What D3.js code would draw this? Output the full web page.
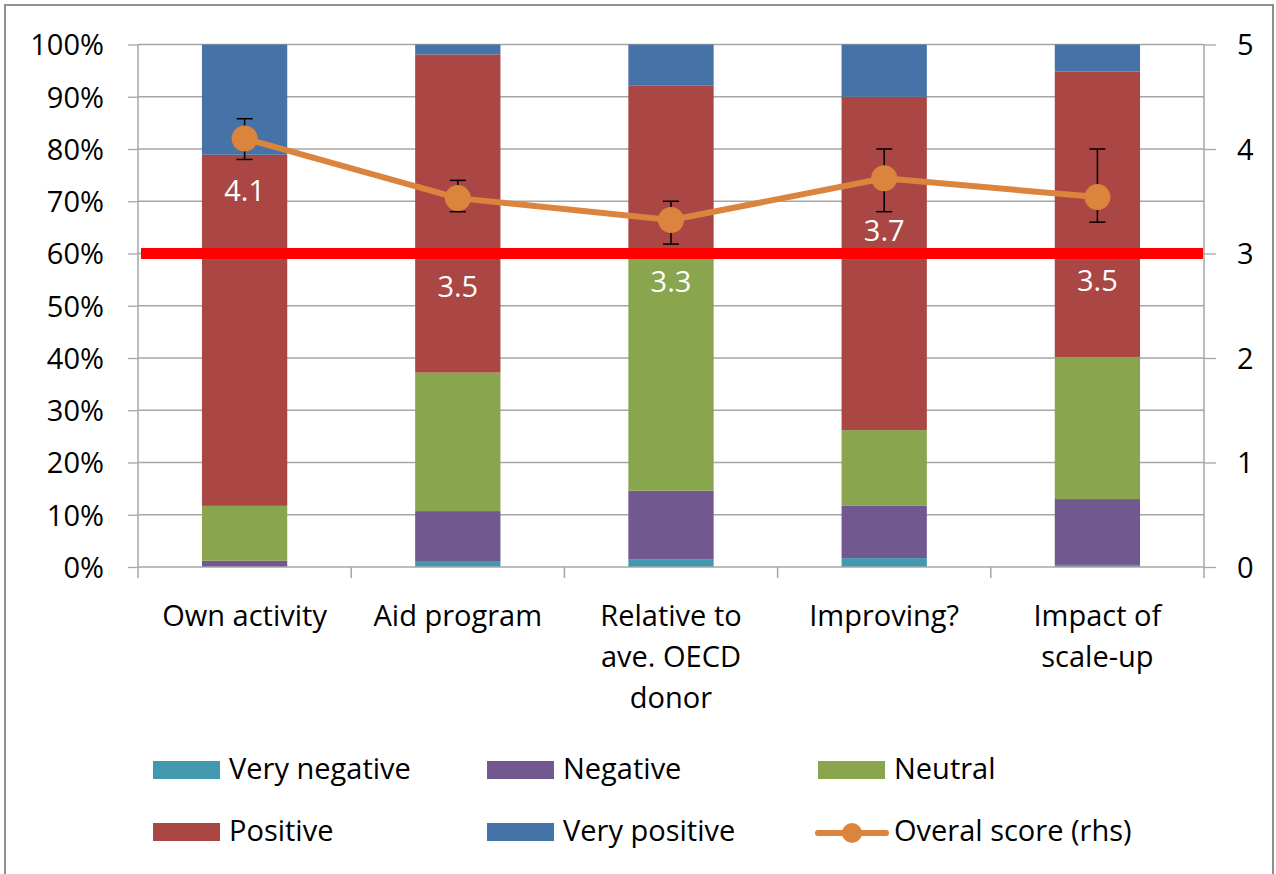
<!DOCTYPE html>
<html>
<head>
<meta charset="utf-8">
<script src="https://cdn.jsdelivr.net/npm/d3@7"></script>
<style>
  body { margin: 0; background: #fff; }
  text { font-family: "Open Sans", sans-serif; }
</style>
</head>
<body>
<script>
// survey answers, % of respondents per category
const categories = ["Own activity", "Aid program", "Relative to ave. OECD donor", "Improving?", "Impact of scale-up"];
const catLines = [["Own activity"], ["Aid program"], ["Relative to", "ave. OECD", "donor"], ["Improving?"], ["Impact of", "scale-up"]];
const veryNegative = [0, 1.0, 1.5, 1.7, 0.4];
const negative = [1.2, 9.7, 13.1, 10.0, 12.6];
const neutral = [10.5, 26.5, 44.4, 14.5, 27.2];
const positive = [67.2, 60.9, 33.1, 63.8, 54.6];
const veryPositive = [21.1, 1.9, 7.9, 10.0, 5.2];
// overall score, right hand scale
const score = [4.1, 3.53, 3.32, 3.72, 3.54];
const scoreHi = [4.29, 3.70, 3.50, 4.0, 4.0];
const scoreLo = [3.90, 3.40, 3.09, 3.40, 3.30];
const threshold = 3;
const leftTicks = [0, 10, 20, 30, 40, 50, 60, 70, 80, 90, 100];
const rightTicks = [0, 1, 2, 3, 4, 5];

const seriesNames = ["Very negative", "Negative", "Neutral", "Positive", "Very positive"];
const seriesVals = [veryNegative, negative, neutral, positive, veryPositive];
const colors = ["#4198af", "#71588f", "#89a54e", "#aa4643", "#4572a7"];
const orange = "#db843d";

// label offsets below each marker (px), as laid out in the original
const labelDy = [52, 88, 62, 52, 84];

const W = 1276, H = 874;
const plotL = 138, plotR = 1204, plotT = 44.5, plotB = 567;
const fs = 29;

const svg = d3.select("body").append("svg")
  .attr("width", W)
  .attr("height", H);

svg.append("rect")
  .attr("x", 5).attr("y", 5)
  .attr("width", 1268).attr("height", 900)
  .attr("fill", "#fff")
  .attr("stroke", "#8f8f8f")
  .attr("stroke-width", 2);

const x = d3.scaleBand().domain(categories).range([plotL, plotR]).paddingInner(0.6).paddingOuter(0.3);
const y = d3.scaleLinear().domain([0, 100]).range([plotB, plotT]);
const yR = d3.scaleLinear().domain([0, 5]).range([plotB, plotT]);

// gridlines
svg.append("g").selectAll("line")
  .data(leftTicks.slice(1))
  .enter().append("line")
  .attr("x1", plotL).attr("x2", plotR)
  .attr("y1", d => y(d)).attr("y2", d => y(d))
  .attr("stroke", "#a6a6a6")
  .attr("stroke-width", 1.3);

// stacked bars
const rows = categories.map((c, i) => {
  const r = { cat: c };
  seriesNames.forEach((s, k) => r[s] = seriesVals[k][i]);
  return r;
});
const stack = d3.stack().keys(seriesNames)(rows);

svg.append("g").selectAll("g")
  .data(stack)
  .enter().append("g")
  .attr("fill", (d, k) => colors[k])
  .selectAll("rect")
  .data(d => d)
  .enter().append("rect")
  .attr("x", d => x(d.data.cat))
  .attr("width", x.bandwidth())
  .attr("y", d => y(d[1]))
  .attr("height", d => y(d[0]) - y(d[1]));

// left axis
const yAxis = d3.axisLeft(y).tickValues(leftTicks).tickFormat(d => d + "%").tickSize(10).tickPadding(24);
const gl = svg.append("g").attr("transform", `translate(${plotL},0)`).call(yAxis);
gl.select(".domain").remove();
gl.selectAll("line").attr("stroke", "#a6a6a6").attr("stroke-width", 1.3);
gl.selectAll("text").attr("font-size", fs).attr("font-family", "Open Sans").attr("fill", "#000").attr("dy", "0.36em");

// right axis
const yAxisR = d3.axisRight(yR).tickValues(rightTicks).tickFormat(d3.format("d")).tickSize(12).tickPadding(21);
const gr = svg.append("g").attr("transform", `translate(${plotR},0)`).call(yAxisR);
gr.select(".domain").remove();
gr.selectAll("line").attr("stroke", "#a6a6a6").attr("stroke-width", 1.3);
gr.selectAll("text").attr("font-size", fs).attr("font-family", "Open Sans").attr("fill", "#000").attr("dy", "0.36em");

// vertical axis lines
[plotL, plotR].forEach(px => {
  svg.append("line")
    .attr("x1", px).attr("x2", px)
    .attr("y1", plotT).attr("y2", plotB + 11)
    .attr("stroke", "#a6a6a6").attr("stroke-width", 1.5);
});

// x axis line + category ticks
svg.append("line")
  .attr("x1", plotL).attr("x2", plotR)
  .attr("y1", plotB).attr("y2", plotB)
  .attr("stroke", "#a6a6a6").attr("stroke-width", 1.5);
const step = x.step();
svg.append("g").selectAll("line")
  .data(categories.slice(1))
  .enter().append("line")
  .attr("x1", d => x(d) - x.paddingInner() * step / 2)
  .attr("x2", d => x(d) - x.paddingInner() * step / 2)
  .attr("y1", plotB).attr("y2", plotB + 11)
  .attr("stroke", "#a6a6a6").attr("stroke-width", 1.5);

// category labels
const cx = c => x(c) + x.bandwidth() / 2;
const xl = svg.append("g").selectAll("text")
  .data(categories)
  .enter().append("text")
  .attr("text-anchor", "middle")
  .attr("font-size", fs)
  .attr("fill", "#000");
xl.each(function (c, i) {
  d3.select(this).selectAll("tspan")
    .data(catLines[i])
    .enter().append("tspan")
    .attr("x", cx(c))
    .attr("y", (d, j) => 626 + j * 41)
    .text(d => d);
});

// threshold line at 3
svg.append("line")
  .attr("x1", plotL + 3).attr("x2", plotR - 1)
  .attr("y1", yR(threshold)).attr("y2", yR(threshold))
  .attr("stroke", "#ff0000")
  .attr("stroke-width", 11);

// score line
const line = d3.line()
  .x((d, i) => cx(categories[i]))
  .y(d => yR(d));
svg.append("path")
  .datum(score)
  .attr("d", line)
  .attr("fill", "none")
  .attr("stroke", orange)
  .attr("stroke-width", 6)
  .attr("stroke-linejoin", "round");

// error bars
const eb = svg.append("g").attr("stroke", "#000").attr("stroke-width", 1.5);
categories.forEach((c, i) => {
  const px = cx(c);
  eb.append("line").attr("x1", px).attr("x2", px).attr("y1", yR(scoreHi[i])).attr("y2", yR(scoreLo[i]));
  eb.append("line").attr("x1", px - 8).attr("x2", px + 8).attr("y1", yR(scoreHi[i])).attr("y2", yR(scoreHi[i]));
  eb.append("line").attr("x1", px - 8).attr("x2", px + 8).attr("y1", yR(scoreLo[i])).attr("y2", yR(scoreLo[i]));
});

// markers
svg.append("g").selectAll("circle")
  .data(score)
  .enter().append("circle")
  .attr("cx", (d, i) => cx(categories[i]))
  .attr("cy", d => yR(d))
  .attr("r", 13)
  .attr("fill", orange);

// value labels
svg.append("g").selectAll("text")
  .data(score)
  .enter().append("text")
  .attr("x", (d, i) => cx(categories[i]))
  .attr("y", (d, i) => yR(d) + labelDy[i] + 10.4)
  .attr("text-anchor", "middle")
  .attr("font-size", fs)
  .attr("fill", "#fff")
  .text(d => d3.format(".1f")(d));

// legend
const legendItems = seriesNames.map((s, k) => ({ name: s, color: colors[k], type: "rect" }));
legendItems.push({ name: "Overal score (rhs)", color: orange, type: "line" });
const colX = [153, 487, 818];
const rowY = [770, 832];
const lg = svg.append("g").selectAll("g")
  .data(legendItems)
  .enter().append("g")
  .attr("transform", (d, i) => `translate(${colX[i % 3]},${rowY[Math.floor(i / 3)]})`);
lg.filter(d => d.type === "rect").append("rect")
  .attr("x", 0).attr("y", -9)
  .attr("width", 67).attr("height", 18)
  .attr("fill", d => d.color);
const ll = lg.filter(d => d.type === "line");
ll.append("line")
  .attr("x1", 0).attr("x2", 68)
  .attr("y1", 1).attr("y2", 1)
  .attr("stroke", d => d.color)
  .attr("stroke-width", 6)
  .attr("stroke-linecap", "round");
ll.append("circle")
  .attr("cx", 34).attr("cy", 1)
  .attr("r", 10)
  .attr("fill", d => d.color);
lg.append("text")
  .attr("x", 76)
  .attr("y", 9)
  .attr("font-size", fs)
  .attr("fill", "#000")
  .text(d => d.name);
</script>
</body>
</html>
